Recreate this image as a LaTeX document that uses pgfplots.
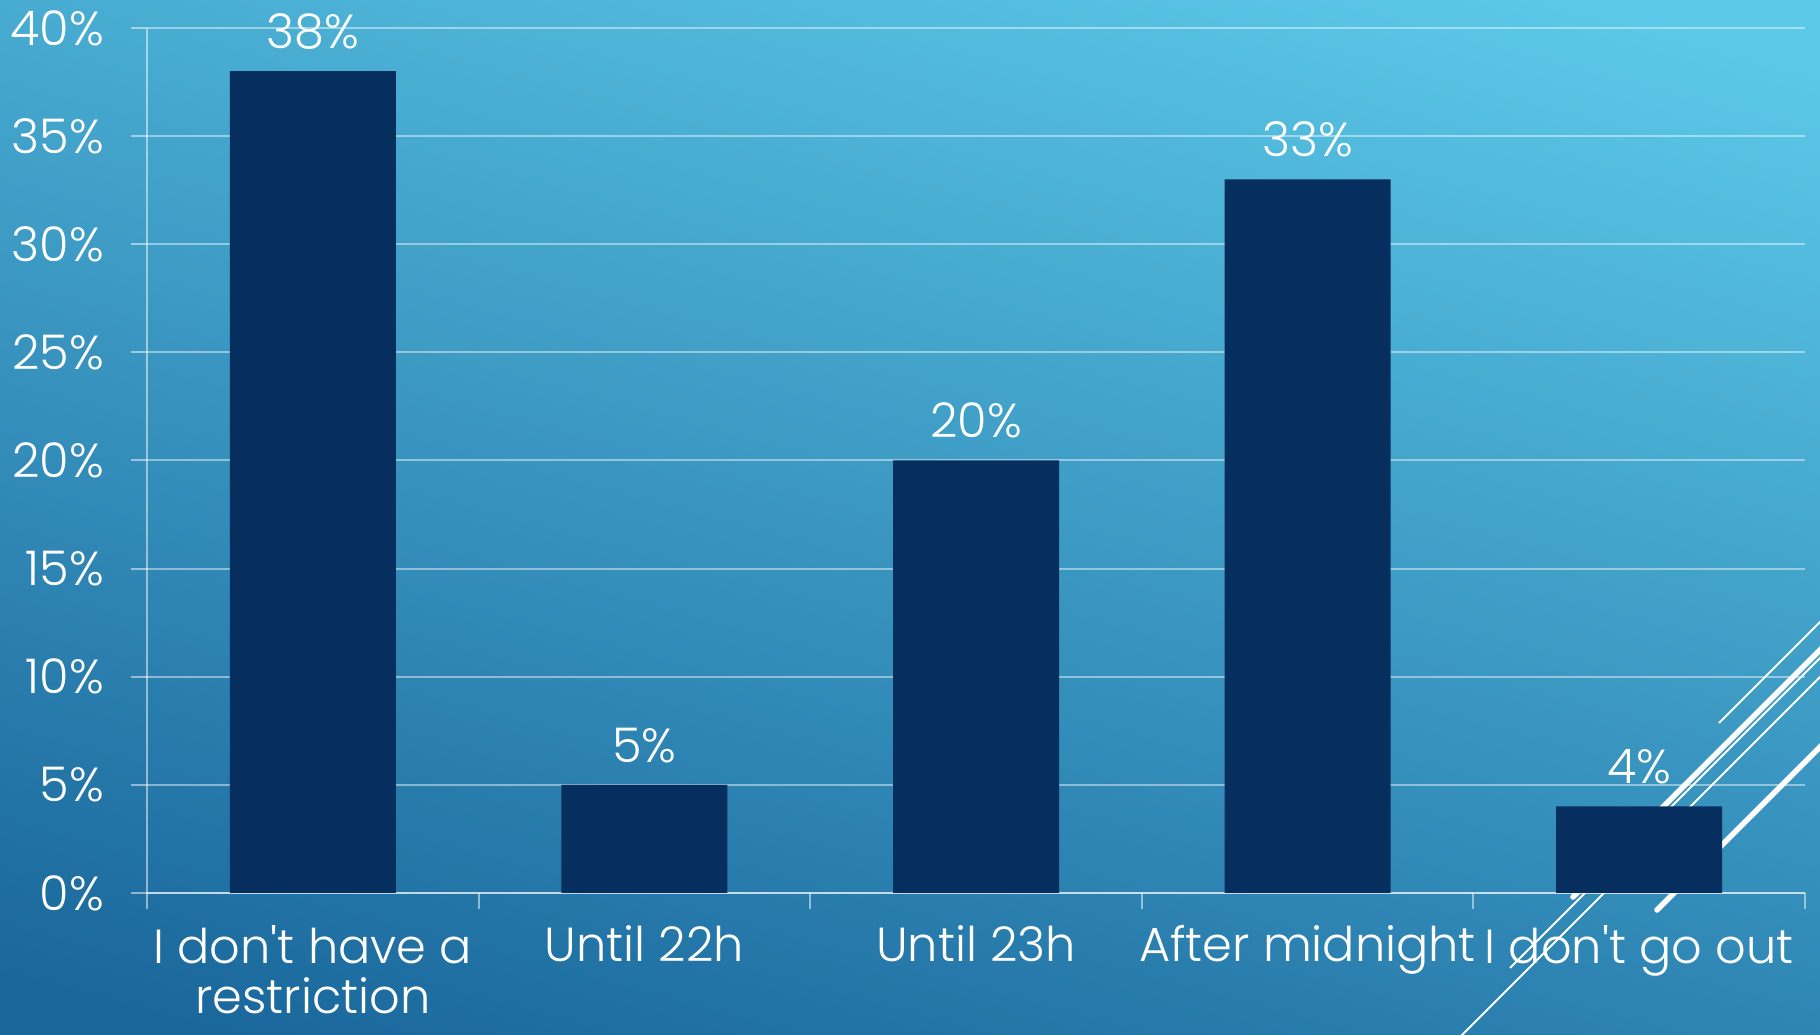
\documentclass[border=0pt]{standalone}
\usepackage{fontspec}
\setmainfont{Poppins}[UprightFont={* Light}, Ligatures=TeXOff]
\usepackage{pgfplots}
\pgfplotsset{compat=1.18}
\definecolor{barcol}{HTML}{062E5F}
\definecolor{bgtop}{HTML}{5CC9E8}
\definecolor{bgbot}{HTML}{1A679C}
\begin{document}
\begin{tikzpicture}
\useasboundingbox (0bp,0bp) rectangle (910bp,517.5bp);
\shade[top color=bgtop, bottom color=bgbot, shading angle=-15] (-40bp,-40bp) rectangle (950bp,557.5bp);
\begin{scope}
\clip (0bp,0bp) rectangle (910bp,517.5bp);
\draw[white, line width=1bp] (859.5bp,156bp) -- (925bp,221.5bp);
\draw[white, line width=2.8bp, line cap=round] (786.5bp,69bp) -- (925bp,207.5bp);
\draw[white, line width=1bp] (755bp,33.5bp) -- (925bp,203.5bp);
\draw[white, line width=1bp] (715bp,-16bp) -- (925bp,194bp);
\draw[white, line width=2.8bp, line cap=round] (828.5bp,62.5bp) -- (925bp,159bp);
\end{scope}
\begin{axis}[
  at={(73.5bp,71bp)}, anchor=south west,
  scale only axis, width=829bp, height=432.5bp,
  xmin=-0.5, xmax=4.5, ymin=0, ymax=40,
  ybar, bar width=83bp,
  axis x line*=bottom, axis y line*=left,
  axis line style={-, white, opacity=0.5, line width=1bp},
  ymajorgrids, grid style={white, opacity=0.45, line width=1bp},
  ytick={0,5,...,40},
  yticklabel={\pgfmathprintnumber{\tick}\%},
  xtick={0,...,4},
  xticklabels={{I don't have a\\restriction},{Until 22h},{Until 23h},{After midnight},{I don't go out}},
  major x tick style={draw=none},
  minor xtick={-0.5,0.5,1.5,2.5,3.5,4.5},
  tick align=outside, major tick length=8bp, minor tick length=8bp,
  tick style={white, opacity=0.5, line width=1bp},
  ticklabel style={font=\fontsize{24}{25}\selectfont, text=white},
  xticklabel style={align=center, yshift=-7bp, inner sep=1bp},
  yticklabel style={xshift=-10bp},
  /pgf/number format/assume math mode=true,
  nodes near coords={\pgfmathprintnumber{\pgfplotspointmeta}\%},
  nodes near coords style={text=white, font=\fontsize{24}{27}\selectfont, anchor=south, yshift=7.5bp},
]
\addplot[fill=barcol, draw=none] coordinates {(0,38) (1,5) (2,20) (3,33) (4,4)};
\end{axis}
\end{tikzpicture}
\end{document}
